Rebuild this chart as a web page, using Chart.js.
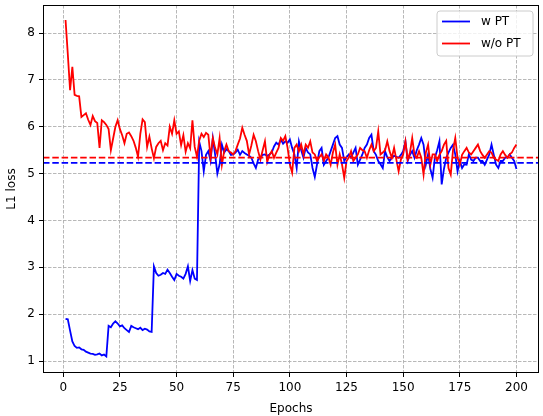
<!DOCTYPE html>
<html><head><meta charset="utf-8">
<script src="https://cdn.jsdelivr.net/npm/chart.js@4"></script>
<style>html,body{margin:0;padding:0;background:#fff}#wrap{width:543px;height:416px}</style>
</head><body><div id="wrap"><canvas id="c" width="543" height="416"></canvas></div>
<script>
const epochs = Array.from({length: 200}, (_, i) => i + 1);
const wPT = [
  1.90,1.89,1.65,1.42,1.32,1.28,1.29,1.25,1.24,1.20,
  1.18,1.16,1.15,1.13,1.14,1.16,1.12,1.14,1.10,1.75,
  1.72,1.80,1.85,1.80,1.74,1.76,1.70,1.66,1.62,1.75,
  1.72,1.70,1.68,1.71,1.66,1.69,1.67,1.63,1.62,3.02,
  2.88,2.82,2.84,2.88,2.86,2.95,2.88,2.80,2.73,2.86,
  2.82,2.80,2.76,2.86,3.02,2.71,2.94,2.76,2.73,5.68,
  5.48,5.05,5.40,5.48,5.27,5.76,5.41,5.00,5.20,5.62,
  5.45,5.52,5.48,5.40,5.41,5.45,5.51,5.40,5.48,5.44,
  5.41,5.38,5.34,5.22,5.12,5.30,5.34,5.40,5.41,5.38,
  5.41,5.45,5.58,5.66,5.62,5.73,5.64,5.69,5.66,5.73,
  5.55,5.41,5.12,5.69,5.50,5.34,5.55,5.45,5.41,5.12,
  4.93,5.20,5.48,5.55,5.19,5.27,5.34,5.48,5.62,5.76,
  5.80,5.62,5.55,5.27,5.35,5.41,5.34,5.45,5.55,5.19,
  5.30,5.41,5.55,5.62,5.76,5.83,5.48,5.40,5.27,5.20,
  5.12,5.48,5.35,5.27,5.34,5.38,5.36,5.34,5.40,5.48,
  5.69,5.27,5.40,5.48,5.34,5.50,5.62,5.76,5.62,5.19,
  5.41,5.10,4.91,5.34,5.50,5.69,4.77,5.10,5.34,5.45,
  5.55,5.62,5.41,5.05,5.27,5.12,5.20,5.19,5.41,5.30,
  5.27,5.34,5.34,5.27,5.27,5.19,5.30,5.41,5.62,5.40,
  5.19,5.12,5.27,5.27,5.34,5.34,5.41,5.34,5.27,5.10
];
const woPT = [
  8.28,7.55,6.78,7.28,6.68,6.66,6.65,6.21,6.25,6.29,
  6.15,6.04,6.23,6.12,6.08,5.55,6.14,6.10,6.04,5.95,
  5.50,5.75,6.00,6.14,5.95,5.82,5.65,5.85,5.88,5.80,
  5.70,5.55,5.36,5.85,6.16,6.10,5.57,5.79,5.54,5.33,
  5.57,5.65,5.70,5.50,5.65,5.60,6.00,5.85,6.14,5.85,
  5.90,5.61,5.82,5.47,5.65,5.54,6.14,5.57,5.36,5.71,
  5.85,5.78,5.87,5.83,5.34,5.76,5.55,5.41,5.76,5.19,
  5.48,5.62,5.48,5.45,5.41,5.48,5.62,5.75,5.98,5.83,
  5.70,5.41,5.60,5.83,5.69,5.48,5.30,5.50,5.69,5.25,
  5.40,5.48,5.34,5.45,5.55,5.76,5.70,5.80,5.55,5.20,
  5.02,5.55,5.62,5.48,5.62,5.41,5.62,5.55,5.69,5.45,
  5.41,5.27,5.35,5.41,5.27,5.41,5.35,5.19,5.45,5.62,
  5.19,5.41,5.20,4.91,5.27,5.34,5.48,5.27,5.34,5.41,
  5.55,5.50,5.48,5.34,5.50,5.62,5.48,5.55,5.90,5.41,
  5.45,5.50,5.69,5.48,5.34,5.55,5.30,5.05,5.30,5.41,
  5.69,5.30,5.45,5.76,5.40,5.34,5.48,5.34,4.98,5.45,
  5.62,5.19,5.41,5.41,5.27,5.40,5.48,5.62,5.70,5.12,
  4.98,5.50,5.76,5.34,5.19,5.40,5.48,5.55,5.45,5.41,
  5.48,5.55,5.62,5.48,5.40,5.34,5.41,5.48,5.45,5.34,
  5.30,5.27,5.41,5.48,5.40,5.34,5.41,5.45,5.55,5.62
];
const wPTLevel = 5.23;
const woPTLevel = 5.34;
const xTicks = [0, 25, 50, 75, 100, 125, 150, 175, 200];
const yTicks = [1, 2, 3, 4, 5, 6, 7, 8];
const seriesLabels = ['w PT', 'w/o PT'];
const seriesColors = ['#0000ff', '#ff0000'];

const FONT = 'DejaVu Sans';
Chart.defaults.font.family = FONT;
Chart.defaults.font.size = 12;
Chart.defaults.color = '#000';

const toXY = arr => arr.map((v, i) => ({x: epochs[i], y: v}));
const zeroPad = s => { s.paddingTop = 0; s.paddingBottom = 0; s.paddingLeft = 0; s.paddingRight = 0; };

const refLines = {
  id: 'refLines',
  afterDatasetsDraw(chart) {
    const {ctx, chartArea, scales} = chart;
    ctx.save();
    ctx.beginPath();
    ctx.rect(chartArea.left, chartArea.top, chartArea.right - chartArea.left, chartArea.bottom - chartArea.top);
    ctx.clip();
    [[wPTLevel, seriesColors[0]], [woPTLevel, seriesColors[1]]].forEach(([v, c]) => {
      const y = scales.y.getPixelForValue(v);
      ctx.strokeStyle = c;
      ctx.lineWidth = 1.8;
      ctx.setLineDash([6.5, 2.8]);
      ctx.beginPath();
      ctx.moveTo(chartArea.left, y);
      ctx.lineTo(chartArea.right, y);
      ctx.stroke();
    });
    ctx.restore();
  }
};

const frameAndLegend = {
  id: 'frameAndLegend',
  afterDraw(chart) {
    const {ctx, chartArea} = chart;
    ctx.save();
    ctx.strokeStyle = '#000';
    ctx.lineWidth = 1;
    ctx.setLineDash([]);
    ctx.strokeRect(Math.round(chartArea.left) + 0.5, Math.round(chartArea.top) + 0.5,
      Math.round(chartArea.right - chartArea.left) - 1, Math.round(chartArea.bottom - chartArea.top) - 1);
    const w = 96, h = 45;
    const x0 = chartArea.right - 6 - w, y0 = chartArea.top + 6;
    const r = 3;
    ctx.beginPath();
    ctx.moveTo(x0 + r, y0);
    ctx.lineTo(x0 + w - r, y0); ctx.arcTo(x0 + w, y0, x0 + w, y0 + r, r);
    ctx.lineTo(x0 + w, y0 + h - r); ctx.arcTo(x0 + w, y0 + h, x0 + w - r, y0 + h, r);
    ctx.lineTo(x0 + r, y0 + h); ctx.arcTo(x0, y0 + h, x0, y0 + h - r, r);
    ctx.lineTo(x0, y0 + r); ctx.arcTo(x0, y0, x0 + r, y0, r);
    ctx.closePath();
    ctx.fillStyle = 'rgba(255,255,255,0.8)';
    ctx.fill();
    ctx.strokeStyle = '#cccccc';
    ctx.stroke();
    ctx.font = '12px "' + FONT + '"';
    ctx.textBaseline = 'middle';
    ctx.textAlign = 'left';
    seriesLabels.forEach((lab, i) => {
      const yy = y0 + 10.5 + i * 22;
      ctx.strokeStyle = seriesColors[i];
      ctx.lineWidth = 1.8;
      ctx.beginPath();
      ctx.moveTo(x0 + 5, yy);
      ctx.lineTo(x0 + 33, yy);
      ctx.stroke();
      ctx.fillStyle = '#000';
      ctx.fillText(lab, x0 + 44, yy);
    });
    ctx.restore();
  }
};

new Chart(document.getElementById('c'), {
  type: 'line',
  data: {
    datasets: [
      {label: seriesLabels[0], data: toXY(wPT), borderColor: seriesColors[0], borderWidth: 1.8, pointRadius: 0, tension: 0, fill: false, order: 1},
      {label: seriesLabels[1], data: toXY(woPT), borderColor: seriesColors[1], borderWidth: 1.8, pointRadius: 0, tension: 0, fill: false, order: 0}
    ]
  },
  options: {
    responsive: false,
    animation: false,
    devicePixelRatio: 1,
    layout: {padding: {left: 0, right: 4, top: 5, bottom: 0}},
    plugins: {legend: {display: false}, tooltip: {enabled: false}},
    scales: {
      x: {
        type: 'linear',
        min: -8.95, max: 209.95,
        afterBuildTicks: s => { s.ticks = xTicks.map(v => ({value: v})); },
        afterFit: s => { s.height = 43; zeroPad(s); },
        grid: {color: '#b0b0b0', lineWidth: 0.9, drawTicks: true, tickLength: 4, tickColor: '#000', tickWidth: 1, tickBorderDash: []},
        border: {display: false, dash: [3.5, 1.5]},
        ticks: {padding: 4, maxRotation: 0, autoSkip: false, color: '#000', font: {size: 12}},
        title: {display: true, text: 'Epochs', color: '#000', font: {size: 12}, padding: {top: 0, bottom: 0}}
      },
      y: {
        type: 'linear',
        min: 0.744, max: 8.6,
        afterBuildTicks: s => { s.ticks = yTicks.map(v => ({value: v})); },
        afterFit: s => { s.width = 43; zeroPad(s); },
        grid: {color: '#b0b0b0', lineWidth: 0.9, drawTicks: true, tickLength: 4, tickColor: '#000', tickWidth: 1, tickBorderDash: []},
        border: {display: false, dash: [3.5, 1.5]},
        ticks: {padding: 4, color: '#000', font: {size: 12}},
        title: {display: true, text: 'L1 loss', color: '#000', font: {size: 12}, padding: {top: 5, bottom: 0}}
      }
    }
  },
  plugins: [refLines, frameAndLegend]
});
</script>
</body></html>
